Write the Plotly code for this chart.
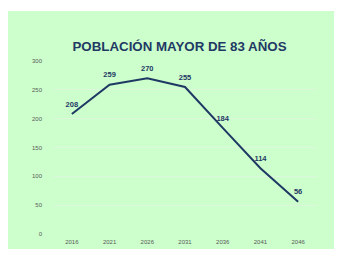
import plotly.graph_objects as go

years = ["2016", "2021", "2026", "2031", "2036", "2041", "2046"]
values = [208, 259, 270, 255, 184, 114, 56]
y_ticks = [0, 50, 100, 150, 200, 250, 300]
title_text = "POBLACIÓN MAYOR DE 83 AÑOS"

# page has an 8px body margin; figure is sized to fit the window
OFF = 8
W, H = 342 - OFF, 258 - OFF
ml, mr, mt, mb = 45, 25, 53, 24
pw, ph = W - ml - mr, H - mt - mb

fig = go.Figure()
fig.add_trace(go.Scatter(
    x=years, y=values, mode="lines+markers+text",
    line=dict(color="#1F3864", width=2),
    marker=dict(size=7, opacity=0),
    text=[str(v) for v in values], textposition="top center",
    textfont=dict(family="Liberation Sans, Arial", size=7.5, color="#1F3864"),
    texttemplate="<b>%{text}</b>", cliponaxis=False, hoverinfo="skip",
))

# green panel with white border
x0 = (0 - ml) / pw
x1 = (332 - ml) / pw
y0 = (H - 241 - mb) / ph
y1 = (H - 3 - mb) / ph
fig.add_shape(type="rect", xref="paper", yref="paper", x0=x0, x1=x1, y0=y0, y1=y1,
              fillcolor="#CCFFCC", line=dict(width=0), layer="below")

fig.update_layout(
    width=W, height=H,
    margin=dict(l=ml, r=mr, t=mt, b=mb),
    paper_bgcolor="white", plot_bgcolor="rgba(0,0,0,0)",
    showlegend=False,
    title=dict(text="<b>" + title_text + "</b>", x=171.5 / W, xanchor="center", y=1 - 38 / H, yanchor="middle",
               font=dict(family="Liberation Sans, Arial", size=13.3, color="#1F3864")),
    xaxis=dict(type="category", range=[-0.5, 6.5], showgrid=False, zeroline=False, showline=False,
               ticks="", ticklabelstandoff=3,
               tickfont=dict(family="Liberation Sans, Arial", size=6, color="#595959")),
    yaxis=dict(range=[0, 300], tickvals=y_ticks, showgrid=True, gridcolor="#DDF7DD", gridwidth=1,
               zeroline=False, showline=False, ticks="", ticklabelstandoff=10,
               tickfont=dict(family="Liberation Sans, Arial", size=6, color="#595959")),
)

fig.write_html("out.html")
